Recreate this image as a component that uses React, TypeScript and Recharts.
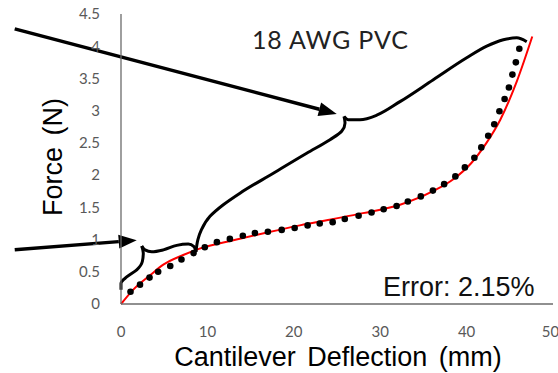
import React from "react";
import {
  ComposedChart,
  Line,
  Scatter,
  XAxis,
  YAxis,
  ReferenceLine,
  Label,
  Customized,
} from "recharts";

// axis ticks
const xTicks = [0, 10, 20, 30, 40, 50];
const yTicks = [0, 0.5, 1, 1.5, 2, 2.5, 3, 3.5, 4, 4.5];

// measured force (black dots)
const measured = [
  { x: 1.1, y: 0.19 }, { x: 2.2, y: 0.3 }, { x: 3.3, y: 0.41 }, { x: 4.3, y: 0.5 },
  { x: 5.7, y: 0.59 }, { x: 7.0, y: 0.69 }, { x: 8.4, y: 0.79 }, { x: 9.7, y: 0.88 },
  { x: 11.1, y: 0.96 }, { x: 12.6, y: 1.01 }, { x: 14.1, y: 1.06 }, { x: 15.5, y: 1.1 },
  { x: 17.0, y: 1.12 }, { x: 18.6, y: 1.15 }, { x: 20.1, y: 1.18 }, { x: 21.6, y: 1.22 },
  { x: 23.0, y: 1.25 }, { x: 24.5, y: 1.27 }, { x: 25.9, y: 1.32 }, { x: 27.5, y: 1.37 },
  { x: 29.0, y: 1.42 }, { x: 30.4, y: 1.47 }, { x: 31.9, y: 1.52 }, { x: 33.2, y: 1.59 },
  { x: 34.7, y: 1.67 }, { x: 36.1, y: 1.76 }, { x: 37.4, y: 1.86 }, { x: 38.7, y: 1.98 },
  { x: 39.8, y: 2.12 }, { x: 40.9, y: 2.27 }, { x: 41.7, y: 2.43 }, { x: 42.5, y: 2.61 },
  { x: 43.2, y: 2.79 }, { x: 43.8, y: 2.99 }, { x: 44.4, y: 3.18 }, { x: 44.9, y: 3.36 },
  { x: 45.3, y: 3.56 }, { x: 45.7, y: 3.75 }, { x: 46.1, y: 3.96 },
];

// model fit (red)
const model = [
  { x: 0, y: 0 }, { x: 1.4, y: 0.22 }, { x: 3.4, y: 0.45 }, { x: 4.9, y: 0.61 },
  { x: 7.2, y: 0.76 }, { x: 9.1, y: 0.86 }, { x: 13.0, y: 0.99 }, { x: 16.9, y: 1.11 },
  { x: 20.7, y: 1.22 }, { x: 24.6, y: 1.32 }, { x: 28.0, y: 1.41 }, { x: 32.3, y: 1.54 },
  { x: 36.1, y: 1.75 }, { x: 38.5, y: 1.94 }, { x: 40.5, y: 2.18 }, { x: 42.3, y: 2.5 },
  { x: 43.9, y: 2.86 }, { x: 45.8, y: 3.45 }, { x: 47.6, y: 4.15 },
];

// curly braces, drawn as four halves
const braceSmallA = [
  { x: 0, y: 0.22 }, { x: 0, y: 0.32 }, { x: 0.66, y: 0.42 }, { x: 1.82, y: 0.53 },
  { x: 2.47, y: 0.66 }, { x: 2.58, y: 0.79 }, { x: 2.4, y: 0.9 },
];
const braceSmallB = [
  { x: 2.4, y: 0.9 }, { x: 2.78, y: 0.84 }, { x: 3.55, y: 0.81 }, { x: 4.9, y: 0.84 },
  { x: 6.45, y: 0.91 }, { x: 7.79, y: 0.93 }, { x: 8.45, y: 0.89 }, { x: 8.68, y: 0.81 },
];
const braceBigA = [
  { x: 8.68, y: 0.81 }, { x: 8.9, y: 1.0 }, { x: 9.3, y: 1.15 }, { x: 10.3, y: 1.36 },
  { x: 11.84, y: 1.54 }, { x: 13.77, y: 1.72 }, { x: 17.63, y: 2.03 }, { x: 21.49, y: 2.34 },
  { x: 24.19, y: 2.55 }, { x: 25.54, y: 2.68 }, { x: 25.93, y: 2.81 }, { x: 25.81, y: 2.91 },
];
const braceBigB = [
  { x: 25.81, y: 2.91 }, { x: 26.31, y: 2.86 }, { x: 27.66, y: 2.86 }, { x: 29.6, y: 2.93 },
  { x: 32.29, y: 3.14 }, { x: 36.15, y: 3.48 }, { x: 40.01, y: 3.82 }, { x: 42.33, y: 4.0 },
  { x: 44.25, y: 4.1 }, { x: 45.8, y: 4.13 }, { x: 46.96, y: 4.07 },
];

// arrows (start, tip)
const arrowTop = [{ x: -12.3, y: 4.27 }, { x: 24.97, y: 2.95 }];
const arrowLow = [{ x: -12.3, y: 0.84 }, { x: 1.82, y: 0.99 }];

const tickStyle = { fill: "#595959", fontSize: 15, fontFamily: "Lato, 'Open Sans', sans-serif" };
const titleFont = "'Liberation Sans', Arial, sans-serif";

const Arrow = (p: any) => {
  const { x1, y1, x2, y2 } = p;
  const a = Math.atan2(y2 - y1, x2 - x1);
  const len = 18;
  const half = 7;
  const bx = x2 - len * Math.cos(a);
  const by = y2 - len * Math.sin(a);
  const nx = -Math.sin(a) * half;
  const ny = Math.cos(a) * half;
  return (
    <g>
      <line x1={x1} y1={y1} x2={bx} y2={by} stroke="#000" strokeWidth={3.5} />
      <polygon points={`${x2},${y2} ${bx + nx},${by + ny} ${bx - nx},${by - ny}`} fill="#000" />
    </g>
  );
};

const Dot = (p: any) => <circle cx={p.cx} cy={p.cy} r={3.3} fill="#000" />;

const XTitle = (p: any) => {
  const vb = p.viewBox;
  return (
    <text x={vb.x + vb.width / 2 + 1} y={vb.y + vb.height + 32} textAnchor="middle" fontSize={27} wordSpacing={4} fontFamily={titleFont} fill="#000">
      Cantilever Deflection (mm)
    </text>
  );
};

const YTitle = (p: any) => {
  const vb = p.viewBox;
  const cx = vb.x + vb.width - 68;
  const cy = vb.y + vb.height / 2 - 2;
  return (
    <text x={cx} y={cy} dy="0.35em" transform={`rotate(-90 ${cx} ${cy})`} textAnchor="middle" fontSize={27} wordSpacing={4} fontFamily={titleFont} fill="#000">
      Force (N)
    </text>
  );
};

const Notes = () => (
  <g>
    <text x={252} y={49} fontSize={25} letterSpacing={0.8} fontFamily="Lato, 'Open Sans', sans-serif" fill="#222">
      18 AWG PVC
    </text>
    <text x={383} y={296} fontSize={27} fontFamily={titleFont} fill="#111">
      Error: 2.15%
    </text>
  </g>
);

const braces = [
  { data: braceSmallA, type: "monotoneY" },
  { data: braceSmallB, type: "monotone" },
  { data: braceBigA, type: "monotoneY" },
  { data: braceBigB, type: "monotone" },
];

export default function App() {
  return (
    <div style={{ position: "absolute", left: 0, top: 0, background: "#fff" }}>
      <ComposedChart width={558} height={373} margin={{ top: 14, right: 5, bottom: 39, left: 61 }}>
        <XAxis
          type="number"
          dataKey="x"
          domain={[0, 50]}
          ticks={xTicks}
          tickLine={false}
          axisLine={{ stroke: "#6b6b6b", strokeWidth: 1.3 }}
          tick={tickStyle}
          tickMargin={16}
          height={30}
        >
          <Label content={XTitle} />
        </XAxis>
        <YAxis
          type="number"
          domain={[0, 4.5]}
          ticks={yTicks}
          tickLine={false}
          axisLine={{ stroke: "#6b6b6b", strokeWidth: 1.3 }}
          tick={tickStyle}
          tickMargin={15}
          width={60}
        >
          <Label content={YTitle} />
        </YAxis>
        <Scatter data={measured} dataKey="y" shape={Dot} isAnimationActive={false} />
        <Line
          data={model}
          dataKey="y"
          type="monotone"
          stroke="#ff0000"
          strokeWidth={2}
          dot={false}
          activeDot={false}
          isAnimationActive={false}
        />
        {braces.map((b, i) => (
          <Line
            key={i}
            data={b.data}
            dataKey="y"
            type={b.type as any}
            stroke="#000"
            strokeWidth={3}
            dot={false}
            activeDot={false}
            isAnimationActive={false}
          />
        ))}
        <ReferenceLine segment={arrowTop} ifOverflow="visible" shape={Arrow} />
        <ReferenceLine segment={arrowLow} ifOverflow="visible" shape={Arrow} />
        <Customized component={<Notes />} />
      </ComposedChart>
    </div>
  );
}
